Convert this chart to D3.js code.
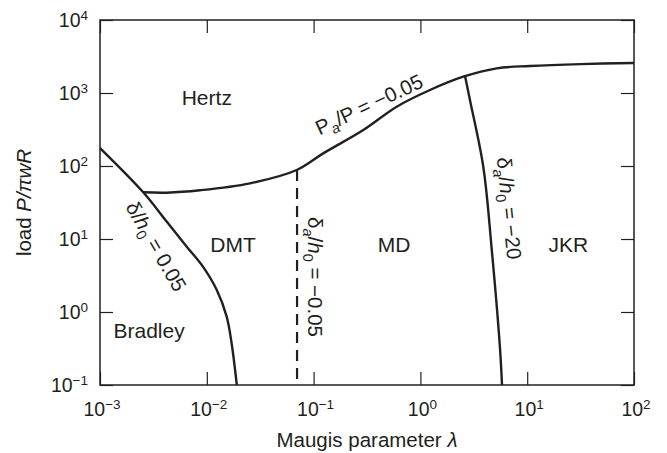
<!DOCTYPE html>
<html>
<head>
<meta charset="utf-8">
<script src="https://cdn.jsdelivr.net/npm/d3@7"></script>
<style>
  html, body { margin: 0; padding: 0; background: #fff; }
  svg { display: block; font-family: "Liberation Sans", Arial, Helvetica, sans-serif; }
  text { fill: #231f20; }
</style>
</head>
<body>
<svg id="chart" width="667" height="453"></svg>
<script>
// Adhesion map: load P/πwR versus Maugis parameter λ (log–log)
const xTicks = [1e-3, 1e-2, 1e-1, 1e0, 1e1, 1e2];
const yTicks = [1e-1, 1e0, 1e1, 1e2, 1e3, 1e4];

// Boundary Pa/P = −0.05 (Hertz above)
const loadRatioLambda = [0.00254, 0.00422, 0.00863, 0.0254, 0.0695, 0.123, 0.292, 0.600, 1.23, 2.52, 5.18, 10.6, 31.6, 100];
const loadRatioLoad   = [43.6, 43.1, 46.5, 57.9, 88.1, 149, 311, 649, 1099, 1671, 2178, 2344, 2490, 2576];

// Boundary δ/h0 = 0.05 (Bradley / DMT)
const dmtLambda = [0.001, 0.00254, 0.00421, 0.00649, 0.0092, 0.0124, 0.01535, 0.01706, 0.0191];
const dmtLoad   = [176, 43.6, 17.3, 7.85, 4.18, 2.0, 0.863, 0.376, 0.1];

// Boundary δa/h0 = −0.05 (DMT / MD), dashed
const mdLambda = [0.07, 0.07];
const mdLoad   = [88.1, 0.1];

// Boundary δa/h0 = −20 (MD / JKR)
const jkrLambda = [2.62, 2.91, 3.88, 4.66, 5.56, 5.81];
const jkrLoad   = [1690, 802, 97.7, 7.06, 0.321, 0.1];

// Region names
const regionNames = ["Hertz", "DMT", "MD", "JKR", "Bradley"];
const regionLambda = [0.0100, 0.0176, 0.566, 24.3, 0.00288];
const regionLoad   = [685, 6.7, 6.7, 6.7, 0.436];

const svg = d3.select("#chart");
const plotLeft = 100, plotRight = 634, plotTop = 20, plotBottom = 385;

const x = d3.scaleLog().domain([1e-3, 1e2]).range([plotLeft, plotRight]);
const y = d3.scaleLog().domain([1e-1, 1e4]).range([plotBottom, plotTop]);

// Axes with inward ticks on all four sides
const tickLen = 13;
function styleAxis(g) {
  g.select(".domain").remove();
  g.selectAll(".tick line").attr("stroke", "#231f20").attr("stroke-width", 1.2);
  g.selectAll(".tick text").remove();
}
svg.append("g").attr("transform", `translate(0,${plotBottom})`)
  .call(d3.axisBottom(x).tickValues(xTicks).tickSizeInner(-tickLen).tickSizeOuter(0)).call(styleAxis);
svg.append("g").attr("transform", `translate(0,${plotTop})`)
  .call(d3.axisTop(x).tickValues(xTicks).tickSizeInner(-tickLen).tickSizeOuter(0)).call(styleAxis);
svg.append("g").attr("transform", `translate(${plotLeft},0)`)
  .call(d3.axisLeft(y).tickValues(yTicks).tickSizeInner(-tickLen).tickSizeOuter(0)).call(styleAxis);
svg.append("g").attr("transform", `translate(${plotRight},0)`)
  .call(d3.axisRight(y).tickValues(yTicks).tickSizeInner(-tickLen).tickSizeOuter(0)).call(styleAxis);

svg.append("rect")
  .attr("x", plotLeft).attr("y", plotTop)
  .attr("width", plotRight - plotLeft).attr("height", plotBottom - plotTop)
  .attr("fill", "none").attr("stroke", "#231f20").attr("stroke-width", 1.5);

// Power-of-ten tick labels
function powerLabel(sel, v) {
  const e = Math.round(Math.log10(v));
  sel.append("tspan").text("10");
  sel.append("tspan").attr("dy", -7).attr("font-size", 13.5)
    .text(e < 0 ? "\u2212" + Math.abs(e) : String(e));
}
xTicks.forEach(v => {
  const t = svg.append("text").attr("x", x(v) + 2).attr("y", 416)
    .attr("text-anchor", "middle").attr("font-size", 19.5);
  powerLabel(t, v);
});
yTicks.forEach(v => {
  const t = svg.append("text").attr("x", 88).attr("y", y(v) + 7)
    .attr("text-anchor", "end").attr("font-size", 19.5);
  powerLabel(t, v);
});

// Axis titles
const xt = svg.append("text").attr("x", (plotLeft + plotRight) / 2).attr("y", 447)
  .attr("text-anchor", "middle").attr("font-size", 20.5);
xt.append("tspan").text("Maugis parameter ");
xt.append("tspan").attr("font-style", "italic").text("\u03bb");

const yt = svg.append("text")
  .attr("transform", `translate(31,${(plotTop + plotBottom) / 2}) rotate(-90)`)
  .attr("text-anchor", "middle").attr("font-size", 20.5);
yt.append("tspan").text("load ");
yt.append("tspan").attr("font-style", "italic").text("P/\u03c0wR");

// Boundary curves
const line = d3.line().x(d => x(d[0])).y(d => y(d[1])).curve(d3.curveCatmullRom.alpha(0.5));
const pairs = (a, b) => a.map((v, i) => [v, b[i]]);

svg.append("path").datum(pairs(loadRatioLambda, loadRatioLoad)).attr("d", line)
  .attr("fill", "none").attr("stroke", "#231f20").attr("stroke-width", 2.4);
svg.append("path").datum(pairs(dmtLambda, dmtLoad)).attr("d", line)
  .attr("fill", "none").attr("stroke", "#231f20").attr("stroke-width", 2.4);
svg.append("path").datum(pairs(jkrLambda, jkrLoad)).attr("d", line)
  .attr("fill", "none").attr("stroke", "#231f20").attr("stroke-width", 2.4);
svg.append("path").datum(pairs(mdLambda, mdLoad)).attr("d", line)
  .attr("fill", "none").attr("stroke", "#231f20").attr("stroke-width", 2.2)
  .attr("stroke-dasharray", "11,7");

// Region labels
regionNames.forEach((name, i) => {
  svg.append("text").attr("x", x(regionLambda[i])).attr("y", y(regionLoad[i]))
    .attr("text-anchor", "middle").attr("font-size", 21).text(name);
});

// Curve labels
function curveLabel(cx, cy, angle, parts) {
  const t = svg.append("text")
    .attr("transform", `translate(${cx},${cy}) rotate(${angle})`)
    .attr("text-anchor", "middle").attr("font-size", 20.5);
  parts.forEach(p => {
    const s = t.append("tspan").text(p.t);
    if (p.sub) s.attr("font-size", 14.5).attr("dy", 5);
    if (p.up) s.attr("dy", -5);
    if (p.it) s.attr("font-style", "italic");
  });
}
curveLabel(372, 111, -25, [
  { t: "P" }, { t: "a", sub: true, it: true }, { t: "/P = \u22120.05", up: true }
]);
curveLabel(150, 250, 60, [
  { t: "\u03b4/" }, { t: "h", it: true }, { t: "0", sub: true }, { t: " = 0.05", up: true }
]);
curveLabel(308, 277, 90, [
  { t: "\u03b4" }, { t: "a", sub: true, it: true }, { t: "/", up: true }, { t: "h", it: true },
  { t: "0", sub: true }, { t: " = \u22120.05", up: true }
]);
curveLabel(502, 209, 84, [
  { t: "\u03b4" }, { t: "a", sub: true, it: true }, { t: "/", up: true }, { t: "h", it: true },
  { t: "0", sub: true }, { t: " = \u221220", up: true }
]);
</script>
</body>
</html>
